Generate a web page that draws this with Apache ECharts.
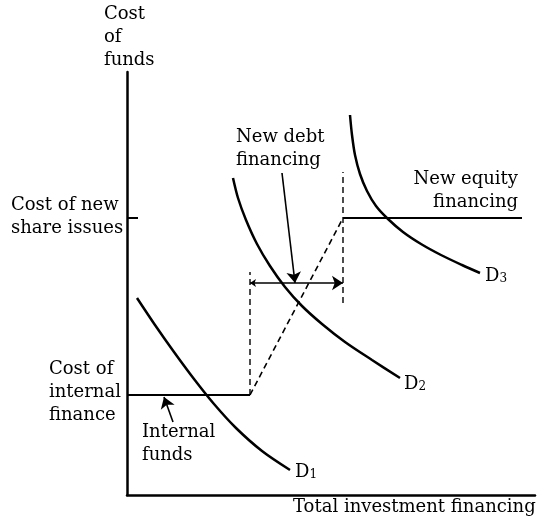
<!DOCTYPE html>
<html><head><meta charset="utf-8">
<script src="https://cdn.jsdelivr.net/npm/echarts@6/dist/echarts.min.js"></script>
<style>html,body{margin:0;padding:0;background:#fff}#c{width:537px;height:524px}</style>
</head><body><div id="c"></div>
<script>
// Data in chart units (x: financing, y: cost of funds)
var d1 = [[10,197],[28,170],[47,143],[67,116],[87,91],[109,67],[135,44],[163,25]];
var d2 = [[106,317],[111,297],[119,275],[130,251],[143,229],[158,208],[175,189],[195,171],[218,153],[245,135],[273,117]];
var d3 = [[223,380],[225,360],[228,340],[233,321],[240,304],[249,289],[261,276],[276,263],[294,251],[314,240],[335,230],[353,222]];
var supplyInternal = [[0,100],[123,100]];
var supplyDebt = [[123,100],[216,277]];
var supplyEquity = [[216,277],[395,277]];
var dashV1 = [[123,100],[123,223]];
var dashV2 = [[216,192],[216,323]];
var debtSpan = [[123,212],[216,212]];
var debtPointer = [[155,322],[168,212]];
var internalPointer = [[46,73],[37,98]];
var shareTick = [[0,277],[11,277]];
var xMax = 408, yMax = 423;

var FONT = '"DejaVu Serif", serif';
var chart = echarts.init(document.getElementById('c'));
function line(data, w, type){
  return {type:'line', data:data, showSymbol:false, symbol:'none', silent:true,
    lineStyle:{color:'#000', width:w, type:type||'solid'}, z:3};
}
function curve(data){
  var s = line(data, 2.5); s.smooth = 0.3; return s;
}
function arrow(data, syms){
  return {type:'lines', coordinateSystem:'cartesian2d', silent:true,
    symbol:syms, symbolSize:[6,11],
    lineStyle:{color:'#000', width:1.6, opacity:1},
    data:[{coords:data}], z:4};
}
function txt(str, left, top, align){
  var o = {type:'text', top:top, style:{text:str, font:'18px '+FONT, fill:'#000', lineHeight:23, textAlign:align||'left'}};
  if(align==='right'){ o.right = 537-left; } else { o.left = left; }
  return o;
}
function dlabel(n, left, top){
  return {type:'text', left:left, top:top, style:{
    rich:{a:{fontSize:18, fontFamily:'DejaVu Serif', fill:'#000', verticalAlign:'bottom'},
          b:{fontSize:12, fontFamily:'DejaVu Serif', fill:'#000', verticalAlign:'bottom'}},
    text:'{a|D}{b|'+n+'}'}};
}
chart.setOption({
  animation:false,
  grid:{left:127, top:72, right:2, bottom:29, containLabel:false},
  xAxis:{type:'value', min:0, max:xMax, axisLine:{show:true, lineStyle:{color:'#000', width:2.5}},
    axisTick:{show:false}, axisLabel:{show:false}, splitLine:{show:false}},
  yAxis:{type:'value', min:0, max:yMax, axisLine:{show:true, lineStyle:{color:'#000', width:2.5}},
    axisTick:{show:false}, axisLabel:{show:false}, splitLine:{show:false}},
  series:[
    curve(d1), curve(d2), curve(d3),
    line(supplyInternal, 2), line(supplyEquity, 2), line(shareTick, 2),
    line(supplyDebt, 1.6, [6,4]), line(dashV1, 1.4, [6,4]), line(dashV2, 1.4, [6,4]),
    arrow(debtSpan, ['arrow','arrow']), arrow(debtPointer, ['none','arrow']), arrow(internalPointer, ['none','arrow'])
  ],
  graphic:[
    txt('Cost\nof\nfunds', 104, 3),
    txt('Cost of new\nshare issues', 11, 194),
    txt('Cost of\ninternal\nfinance', 49, 358),
    txt('Internal\nfunds', 142, 421),
    txt('New debt\nfinancing', 236, 126),
    txt('New equity\nfinancing', 518, 168, 'right'),
    txt('Total investment financing', 293, 496),
    dlabel('1', 295, 463), dlabel('2', 404, 375), dlabel('3', 485, 267)
  ]
});
</script></body></html>
